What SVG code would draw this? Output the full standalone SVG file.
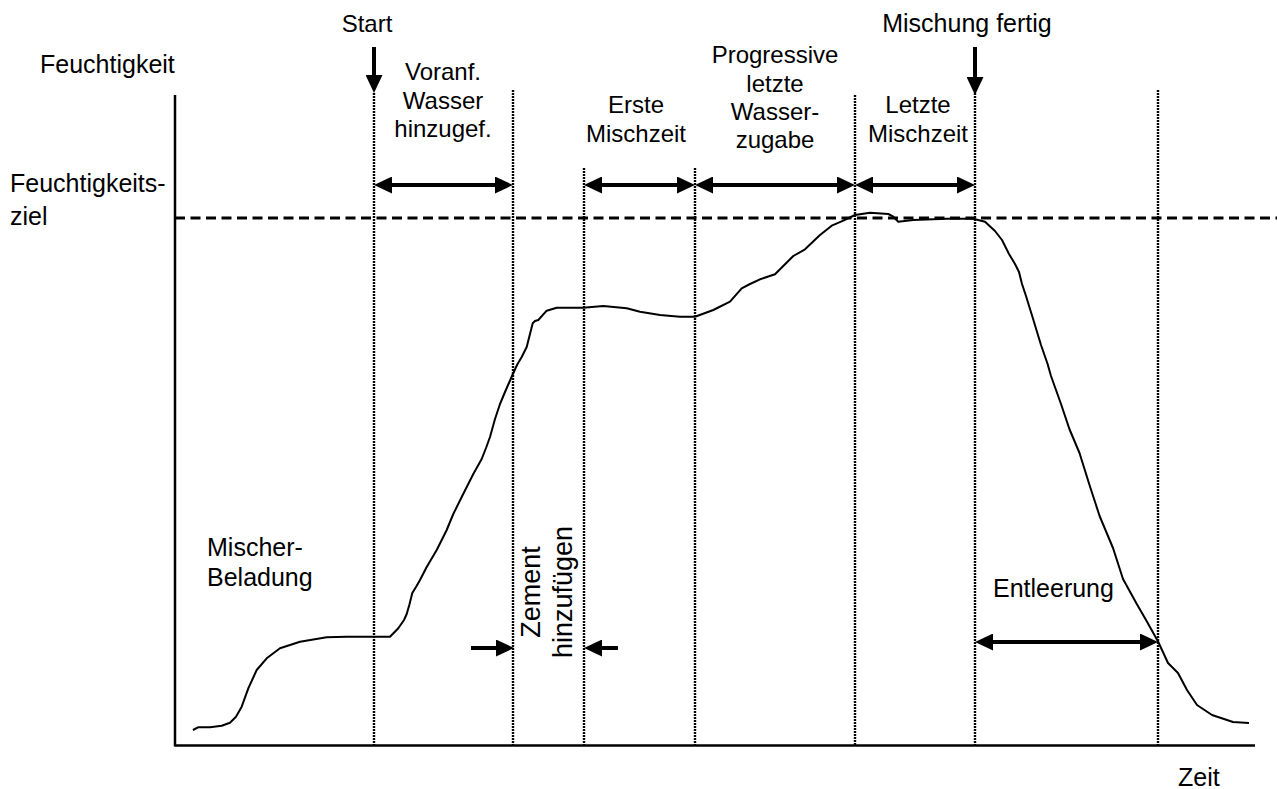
<svg xmlns="http://www.w3.org/2000/svg" width="1277" height="789" viewBox="0 0 1277 789">
<style>
text{font-family:"Liberation Sans",Arial,sans-serif;font-size:24px;fill:#000}
.c{text-anchor:middle}
.big{font-size:25px}
.rot{font-size:27px}
.axis{stroke:#000;stroke-width:2.5;fill:none}
.dot{stroke:#000;stroke-width:2.4;stroke-dasharray:2 1;fill:none}
.dash{stroke:#000;stroke-width:2.8;stroke-dasharray:10 5.5;fill:none}
.arr{stroke:#000;stroke-width:4;fill:none;marker-end:url(#ah)}
.dbl{stroke:#000;stroke-width:4;fill:none;marker-start:url(#ah);marker-end:url(#ah)}
.curve{stroke:#000;stroke-width:2;fill:none;stroke-linejoin:round}
</style>
<defs>
<marker id="ah" markerUnits="userSpaceOnUse" markerWidth="18" markerHeight="17" viewBox="0 0 18 17" refX="14" refY="8.5" orient="auto-start-reverse">
<path d="M0,0 L18,8.5 L0,17 z" fill="#000"/>
</marker>
</defs>
<rect width="1277" height="789" fill="#fff"/>

<g id="axes">
<line class="axis" x1="175" y1="95" x2="175" y2="746.5"/>
<line class="axis" x1="175" y1="745.5" x2="1255" y2="745.5"/>
<line class="dash" x1="175" y1="218" x2="1277" y2="218"/>
</g>

<g id="dividers">
<line class="dot" x1="374" y1="93" x2="374" y2="745"/>
<line class="dot" x1="513" y1="90" x2="513" y2="745"/>
<line class="dot" x1="584" y1="168" x2="584" y2="745"/>
<line class="dot" x1="695" y1="168" x2="695" y2="745"/>
<line class="dot" x1="855" y1="95" x2="855" y2="745"/>
<line class="dot" x1="975" y1="93" x2="975" y2="745"/>
<line class="dot" x1="1158" y1="90" x2="1158" y2="745"/>
</g>

<g id="curve">
<polyline class="curve" points="193,730 198,727.3 210,727.3 221.7,725.7 230,722.7 236,716.7 241.7,706.7 248.3,688.3 256.7,670 266.7,658.3 280,648.3 300,641.7 326.7,637.3 346.7,636.7 390,636.7 398.3,628.3 404,620 406.7,614 409.3,605 412.3,593 416,587 420,580 426.7,567 436.7,550 446.7,530 453.3,514 461.7,497 473.3,474 481.7,459 486,448 490,437 495,419 500,404 505,392 512,376 517,365 521.7,357 526.7,347 532.7,323.3 535,321 538.3,320 546.7,310.7 556.7,307.7 583.3,307.7 603.3,306 626.7,308.3 640,311.7 660,315 680,316.7 695,316.7 713.3,310 730,301.7 741.7,288.3 750,284 760,279.3 775,274.3 793.3,256 805,249.3 820,235 831.7,225.7 843.3,220.7 855,215 870,212.7 888.3,214 893.3,216.7 898.3,221.7 913.3,220 946.7,218.7 973.3,218.7 985,221.7 995,231 1002,240 1009,254 1015,264 1019,272 1022,284 1026,296 1032.5,317 1041,345 1047.6,364 1051,376 1061,404 1069.4,429 1079.5,453 1089.5,485 1099.6,516 1113,548 1123,579 1136.5,603.6 1146.6,621 1158.3,642 1168,663 1178,673 1187,690 1197,705 1212,715 1233,722 1249,723"/>
</g>

<g id="connectors">
<line class="arr" x1="374" y1="47" x2="374" y2="89"/>
<line class="arr" x1="975" y1="47" x2="975" y2="91"/>
<line class="dbl" x1="378" y1="185" x2="509" y2="185"/>
<line class="dbl" x1="588" y1="185" x2="691" y2="185"/>
<line class="dbl" x1="699" y1="185" x2="851" y2="185"/>
<line class="dbl" x1="859" y1="185" x2="971" y2="185"/>
<line class="dbl" x1="979" y1="642" x2="1154" y2="642"/>
<line class="arr" x1="471" y1="648" x2="510" y2="648"/>
<line class="arr" x1="618" y1="648" x2="588" y2="648"/>
</g>

<g id="label-feuchtigkeit"><text class="big" x="40" y="72.7">Feuchtigkeit</text></g>
<g id="label-ziel">
<text class="big" x="10" y="192">Feuchtigkeits-</text>
<text class="big" x="10" y="225">ziel</text>
</g>
<g id="label-start"><text class="c" x="367" y="31.7">Start</text></g>
<g id="label-fertig"><text class="c big" x="967" y="31.7">Mischung fertig</text></g>
<g id="label-voranf">
<text class="c" x="443" y="80">Voranf.</text>
<text class="c" x="443" y="108.5">Wasser</text>
<text class="c" x="443" y="137">hinzugef.</text>
</g>
<g id="label-erste">
<text class="c" x="636" y="113">Erste</text>
<text class="c" x="636" y="142">Mischzeit</text>
</g>
<g id="label-progressive">
<text class="c" x="775" y="63.3">Progressive</text>
<text class="c" x="775" y="91.7">letzte</text>
<text class="c" x="775" y="120">Wasser-</text>
<text class="c" x="775" y="148.3">zugabe</text>
</g>
<g id="label-letzte">
<text class="c" x="918" y="113">Letzte</text>
<text class="c" x="918" y="142">Mischzeit</text>
</g>
<g id="label-mischer">
<text class="big" x="207" y="556">Mischer-</text>
<text class="big" x="207" y="586">Beladung</text>
</g>
<g id="label-zement">
<text class="c rot" transform="translate(540,592) rotate(-90)">Zement</text>
<text class="c rot" transform="translate(572,592) rotate(-90)">hinzufügen</text>
</g>
<g id="label-entleerung"><text class="big" x="993" y="597">Entleerung</text></g>
<g id="label-zeit"><text class="big" x="1178" y="786">Zeit</text></g>
</svg>
